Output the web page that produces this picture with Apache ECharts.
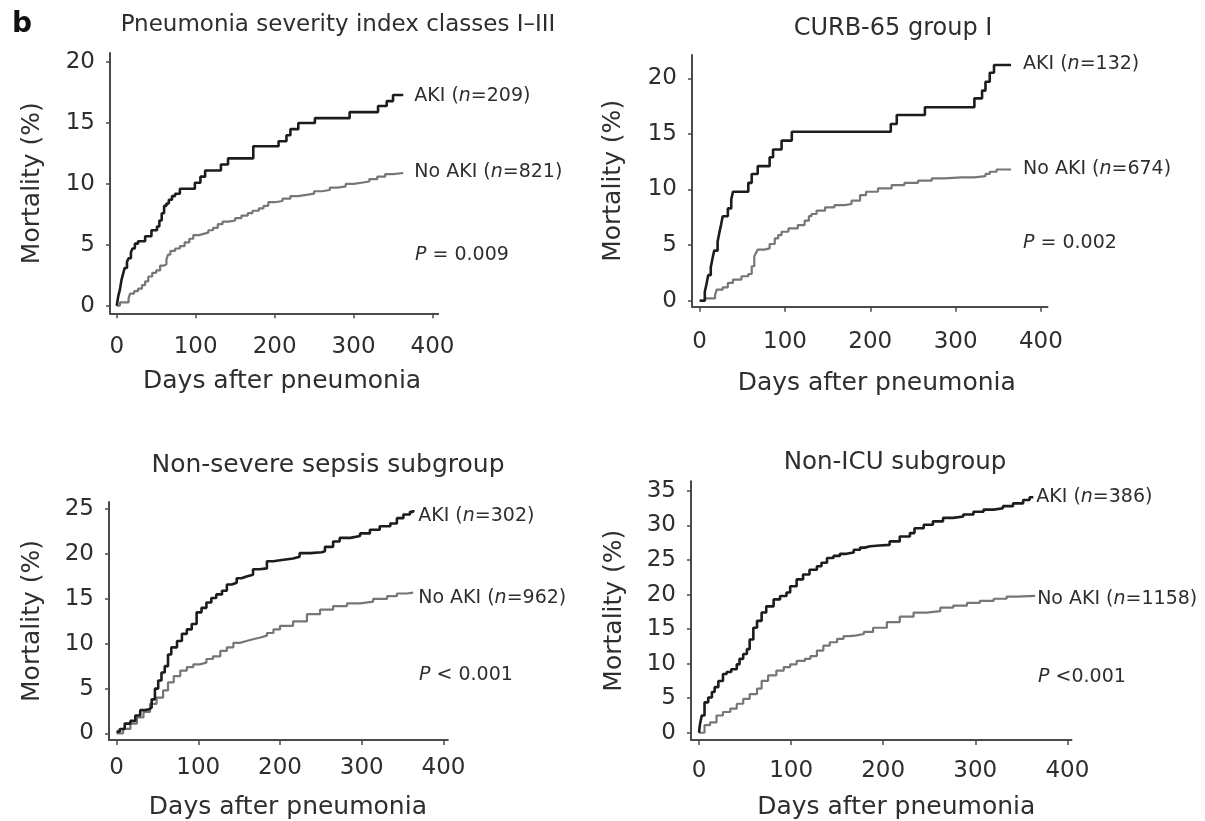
<!DOCTYPE html>
<html>
<head>
<meta charset="utf-8">
<script src="https://cdn.jsdelivr.net/npm/echarts@6/dist/echarts.min.js"></script>
<style>
html,body{margin:0;padding:0;background:#fff;}
#chart{width:1205px;height:821px;}
</style>
</head>
<body>
<div id="chart"></div>
<script>
// ---------------- DATA ----------------
const panelLetter = 'b';
const panelTitles = ['Pneumonia severity index classes I\u2013III', 'CURB-65 group I', 'Non-severe sepsis subgroup', 'Non-ICU subgroup'];
const xAxisTitle = 'Days after pneumonia';
const yAxisTitle = 'Mortality (%)';
const xTicks = [0, 100, 200, 300, 400];
const yTicksPSI = [0, 5, 10, 15, 20];
const yTicksCURB = [0, 5, 10, 15, 20];
const yTicksSepsis = [0, 5, 10, 15, 20, 25];
const yTicksICU = [0, 5, 10, 15, 20, 25, 30, 35];
const nAKI = [209, 132, 302, 386];
const nNoAKI = [821, 674, 962, 1158];
const pValues = ['= 0.009', '= 0.002', '< 0.001', '<0.001'];

// [day, cumulative mortality %]
const psiAKI = [[0,0],[2,0.8],[4,1.3],[6,2.1],[8,2.6],[10,3.1],[13,3.6],[15,3.9],[18,4.4],[20,4.7],[23,5.1],[27,5.3],[36,5.7],[44,6.2],[51,6.5],[54,7.0],[57,7.6],[60,8.2],[63,8.4],[66,8.7],[70,9.0],[74,9.2],[80,9.6],[99,10.1],[106,10.6],[112,11.1],[132,11.6],[141,12.1],[173,13.1],[205,13.5],[215,14.0],[220,14.5],[230,15.0],[251,15.4],[295,15.9],[331,16.4],[342,16.8],[350,17.3],[363,17.3]];
const psiNoAKI = [[0,0],[4,0.27],[15,0.6],[17,1.0],[22,1.2],[27,1.4],[32,1.7],[36,2.0],[40,2.4],[45,2.7],[50,2.9],[55,3.3],[60,3.4],[63,3.8],[65,4.2],[68,4.5],[74,4.7],[80,4.9],[86,5.2],[92,5.5],[97,5.8],[104,5.9],[110,6.0],[116,6.2],[122,6.4],[128,6.7],[134,6.9],[142,7.0],[150,7.2],[158,7.4],[166,7.6],[172,7.8],[180,8.0],[186,8.2],[192,8.5],[200,8.6],[210,8.8],[220,9.0],[230,9.1],[240,9.2],[250,9.4],[260,9.5],[270,9.7],[280,9.8],[290,10.0],[300,10.1],[310,10.2],[320,10.4],[330,10.6],[340,10.8],[350,10.9],[363,10.95]];
const curbAKI = [[0,0],[6,0.8],[8,1.5],[10,2.3],[13,3.0],[15,3.8],[17,4.5],[21,5.3],[23,6.1],[25,6.8],[27,7.6],[33,8.3],[37,9.1],[39,9.8],[57,10.6],[61,11.4],[68,12.1],[82,12.9],[86,13.6],[96,14.4],[108,15.2],[224,15.9],[231,16.7],[264,17.4],[322,18.2],[331,18.9],[335,19.7],[340,20.5],[345,21.2],[365,21.2]];
const curbNoAKI = [[0,0],[6,0.2],[18,0.5],[20,1.0],[27,1.2],[33,1.6],[39,1.9],[49,2.2],[57,2.4],[61,3.1],[64,4.0],[66,4.3],[68,4.6],[76,4.7],[82,5.1],[88,5.6],[92,5.9],[96,6.2],[104,6.5],[115,6.8],[123,7.2],[128,7.6],[131,7.8],[137,8.1],[147,8.4],[158,8.6],[170,8.7],[178,9.0],[188,9.5],[195,9.8],[209,10.1],[225,10.4],[240,10.6],[256,10.8],[272,11.0],[287,11.1],[307,11.1],[322,11.2],[335,11.4],[340,11.6],[348,11.8],[365,11.8]];
const sepsisAKI = [[0,0.2],[4,0.5],[10,1.1],[17,1.4],[23,2.0],[29,2.6],[35,2.7],[40,2.9],[43,3.8],[47,5.0],[51,5.9],[55,6.8],[59,7.5],[63,8.8],[67,9.6],[74,10.3],[80,11.1],[86,11.6],[92,12.2],[98,13.5],[104,14.0],[110,14.6],[116,15.1],[122,15.5],[129,15.9],[135,16.6],[141,16.8],[147,17.3],[153,17.5],[159,17.7],[167,18.3],[175,18.4],[184,19.2],[192,19.3],[200,19.5],[216,19.7],[224,20.1],[237,20.2],[251,20.3],[255,20.8],[265,21.4],[273,21.8],[286,22.0],[298,22.3],[310,22.7],[322,23.1],[335,23.4],[343,24.0],[351,24.4],[359,24.7],[363,24.9]];
const sepsisNoAKI = [[0,0],[8,0.5],[17,1.1],[25,1.8],[33,2.4],[41,3.3],[49,4.0],[57,4.8],[63,5.7],[70,6.4],[78,7.0],[86,7.4],[94,7.7],[102,7.9],[110,8.3],[118,8.6],[127,9.2],[135,9.6],[143,10.1],[151,10.3],[159,10.5],[167,10.7],[176,10.9],[184,11.2],[192,11.6],[200,12.0],[216,12.5],[233,13.3],[249,13.8],[265,14.2],[282,14.5],[298,14.7],[314,15.0],[331,15.3],[343,15.6],[355,15.7],[363,15.7]];
const icuAKI = [[0,0],[1,1.2],[3,2.5],[6,4.4],[10,5.1],[14,5.9],[17,6.6],[21,7.5],[26,8.5],[30,8.8],[35,9.2],[41,9.9],[44,10.7],[48,11.4],[52,12.1],[55,13.5],[59,15.2],[63,16.2],[68,17.4],[73,18.3],[81,19.3],[88,19.8],[95,20.3],[99,21.2],[106,22.2],[113,22.9],[120,23.6],[128,24.1],[133,24.6],[139,25.3],[146,25.6],[153,25.9],[160,26.1],[168,26.5],[175,26.8],[180,27.0],[186,27.1],[196,27.2],[207,27.7],[218,28.4],[229,28.9],[234,29.6],[244,30.1],[254,30.6],[265,31.1],[276,31.3],[287,31.6],[298,32.0],[309,32.3],[320,32.5],[330,32.8],[341,33.2],[352,33.7],[359,34.1],[363,34.2]];
const icuNoAKI = [[0,0],[6,1.1],[12,1.5],[19,2.5],[26,3.0],[34,3.5],[41,4.2],[48,4.9],[55,5.6],[63,6.4],[68,7.5],[75,8.3],[84,9.0],[92,9.5],[99,9.9],[106,10.4],[115,10.7],[121,11.1],[128,11.9],[135,12.6],[142,13.1],[150,13.6],[157,14.0],[164,14.1],[171,14.3],[179,14.6],[189,15.2],[204,16.0],[218,16.8],[233,17.4],[247,17.6],[262,18.1],[276,18.4],[291,18.8],[305,19.1],[320,19.4],[334,19.7],[345,19.8],[365,19.8]];

// ---------------- LAYOUT / STYLE ----------------
const FONT = "'DejaVu Sans', sans-serif";
const TXT = '#2e2e2e';
const AXC = '#4a4a4a';
const layout = [
  {left:110, top:53, width:328.2, height:260.3, xMin:-8.5, xMax:407.2, yMin:-0.62, yMax:20.75, xLabM:22.7, xNameGap:56, xNamePad:16, yNameGap:65, title:[338,25,23], p:[415,255], distA:11, distN:11, offA:[0,1], offN:[0,0]},
  {left:692, top:55, width:355.5, height:251.7, xMin:-9, xMax:407.7, yMin:-0.54, yMax:22.1, xLabM:24.3, xNameGap:64.5, xNamePad:14, yNameGap:66, title:[893,29,24], p:[1023,243], distA:12, distN:12, offA:[0,-1], offN:[0,0]},
  {left:109, top:502, width:338.8, height:239.3, xMin:-9.2, xMax:405.3, yMin:-0.73, yMax:25.8, xLabM:16.7, xNameGap:55, xNamePad:19, yNameGap:64, title:[328,465,25], p:[419,675], distA:5, distN:5, offA:[0,6], offN:[0,5]},
  {left:691, top:481.3, width:380.5, height:260, xMin:-8.7, xMax:404.5, yMin:-1.05, yMax:36.4, xLabM:19.2, xNameGap:55, xNamePad:30, yNameGap:64, title:[895,463,24.5], p:[1038,677], distA:3, distN:2, offA:[0,1], offN:[0,3]}
];
const yTickSets = [yTicksPSI, yTicksCURB, yTicksSepsis, yTicksICU];
const akiData = [psiAKI, curbAKI, sepsisAKI, icuAKI];
const noAkiData = [psiNoAKI, curbNoAKI, sepsisNoAKI, icuNoAKI];

const grids = [], xAxes = [], yAxes = [], series = [], graphics = [];
const richLab = {
  a: {fontFamily: FONT, fontSize: 19, color: TXT},
  i: {fontFamily: FONT, fontSize: 19, color: TXT, fontStyle: 'italic'}
};

layout.forEach((L, k) => {
  grids.push({left: L.left, top: L.top, width: L.width, height: L.height, containLabel: false});
  xAxes.push({
    type: 'value', gridIndex: k, min: L.xMin, max: L.xMax,
    name: xAxisTitle, nameLocation: 'middle', nameGap: L.xNameGap,
    nameTextStyle: {fontFamily: FONT, fontSize: 25, color: TXT, padding: [0, 0, 0, L.xNamePad]},
    axisLine: {show: true, onZero: false, lineStyle: {color: AXC, width: 2}},
    axisTick: {show: true, length: 5, inside: false, lineStyle: {color: AXC, width: 1.5}, customValues: xTicks},
    axisLabel: {show: true, margin: L.xLabM, fontFamily: FONT, fontSize: 23, color: TXT, customValues: xTicks},
    splitLine: {show: false}
  });
  yAxes.push({
    type: 'value', gridIndex: k, min: L.yMin, max: L.yMax,
    name: yAxisTitle, nameLocation: 'middle', nameGap: L.yNameGap,
    nameTextStyle: {fontFamily: FONT, fontSize: 25, color: TXT},
    axisLine: {show: true, onZero: false, lineStyle: {color: AXC, width: 2}},
    axisTick: {show: true, length: 4, lineStyle: {color: AXC, width: 1.5}, customValues: yTickSets[k]},
    axisLabel: {show: true, margin: 15, fontFamily: FONT, fontSize: 23, color: TXT, customValues: yTickSets[k]},
    splitLine: {show: false}
  });
  series.push({
    type: 'line', name: 'AKI', xAxisIndex: k, yAxisIndex: k, step: 'end',
    data: akiData[k], showSymbol: false, symbol: 'none',
    lineStyle: {color: '#1c1c1c', width: 2.6}, itemStyle: {color: '#1c1c1c'},
    endLabel: {show: true, distance: L.distA, offset: L.offA,
      formatter: '{a|AKI (}{i|n}{a|=' + nAKI[k] + ')}', rich: richLab},
    animation: false, z: 3
  });
  series.push({
    type: 'line', name: 'No AKI', xAxisIndex: k, yAxisIndex: k, step: 'end',
    data: noAkiData[k], showSymbol: false, symbol: 'none',
    lineStyle: {color: '#767676', width: 2.2}, itemStyle: {color: '#767676'},
    endLabel: {show: true, distance: L.distN, offset: L.offN,
      formatter: '{a|No AKI (}{i|n}{a|=' + nNoAKI[k] + ')}', rich: richLab},
    animation: false, z: 2
  });
  graphics.push({
    type: 'text', x: L.title[0], y: L.title[1],
    style: {text: panelTitles[k], fill: TXT, font: L.title[2] + 'px ' + FONT,
      align: 'center', verticalAlign: 'middle', textAlign: 'center', textVerticalAlign: 'middle'}
  });
  graphics.push({
    type: 'text', x: L.p[0], y: L.p[1],
    style: {text: '{i|P} {a|' + pValues[k] + '}', rich: richLab, fill: TXT,
      font: '19px ' + FONT, align: 'left', verticalAlign: 'middle', textAlign: 'left', textVerticalAlign: 'middle'}
  });
});

graphics.push({
  type: 'text', x: 12, y: 25,
  style: {text: panelLetter, fill: '#111', font: 'bold 28px ' + FONT,
    align: 'left', verticalAlign: 'middle', textAlign: 'left', textVerticalAlign: 'middle'}
});

const chart = echarts.init(document.getElementById('chart'), null, {renderer: 'canvas'});
chart.setOption({
  backgroundColor: '#ffffff',
  animation: false,
  grid: grids,
  xAxis: xAxes,
  yAxis: yAxes,
  series: series,
  graphic: graphics
});
</script>
</body>
</html>
